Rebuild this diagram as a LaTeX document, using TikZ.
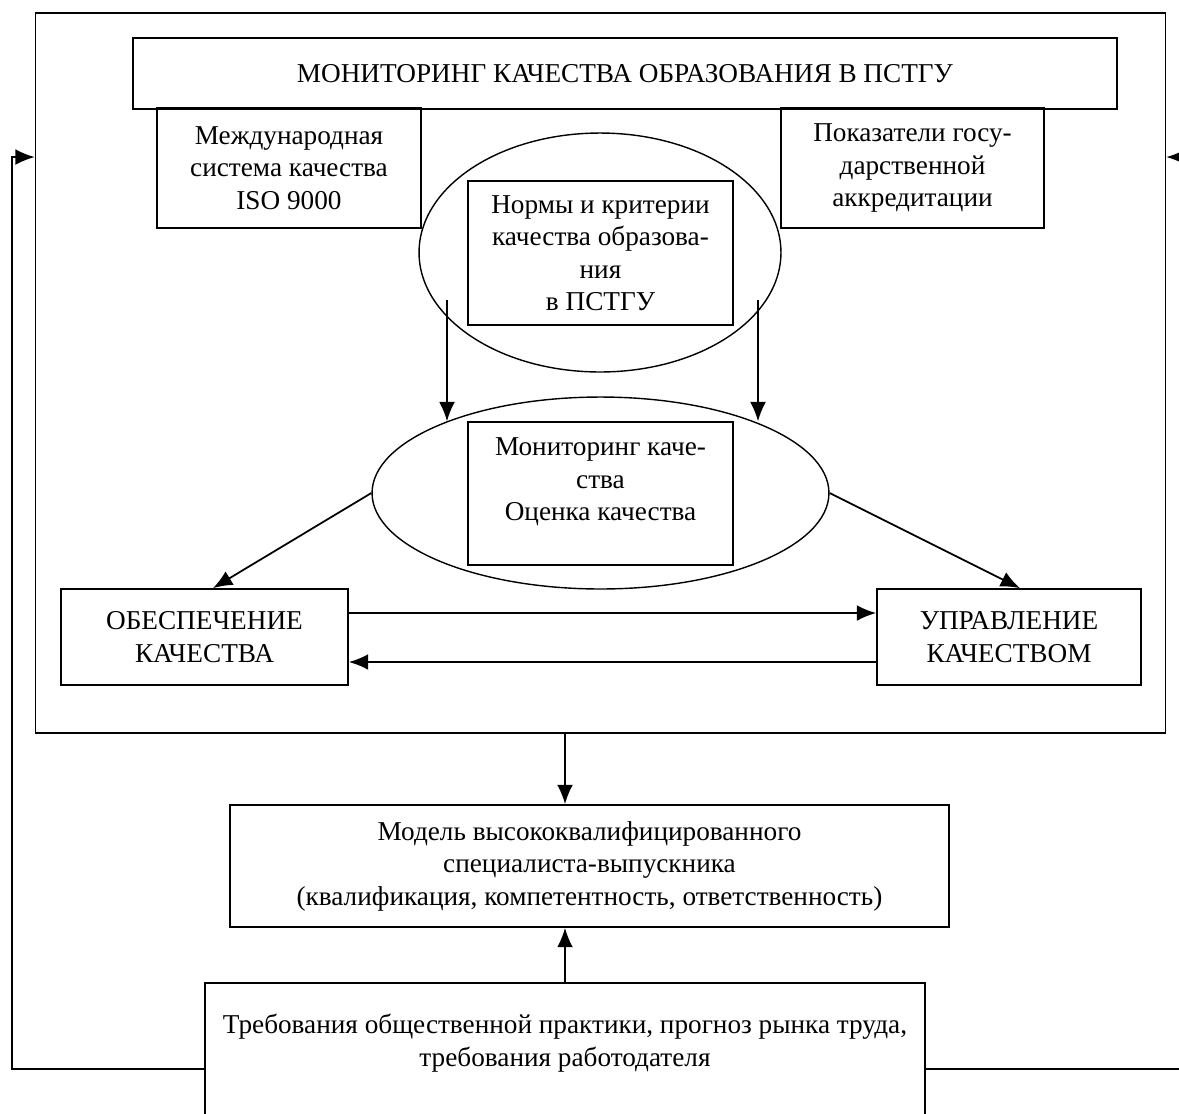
\documentclass[tikz,border=0pt]{standalone}
\usepackage{fontspec}
\setmainfont{Liberation Serif}
\usetikzlibrary{shapes.geometric, arrows.meta}
\tikzstyle{block} = [rectangle, draw=black, line width=1pt, text centered, align=center, inner sep=0pt]
\tikzstyle{oval} = [ellipse, draw=black, line width=0.8pt, inner sep=0pt]
\tikzstyle{arrow} = [line width=1pt,-{Latex[length=11pt,width=9pt]}]

\begin{document}
\begin{tikzpicture}[x=0.02cm, y=-0.02cm, font=\fontsize{15.5}{18.5}\selectfont]
\useasboundingbox (0,0) rectangle (1179,1113);
\clip (0,0) rectangle (1179,1113);

\node (frame) [block, minimum width=22.6cm, minimum height=14.4cm] at (600.5,373) {};
\node (title) [block, minimum width=19.68cm, minimum height=1.42cm] at (625,73.5) {МОНИТОРИНГ КАЧЕСТВА ОБРАЗОВАНИЯ В ПСТГУ};
\node (iso) [block, minimum width=5.28cm, minimum height=2.4cm] at (289,168) {Международная\\система качества\\ISO 9000};
\node (accr) [block, minimum width=5.26cm, minimum height=2.4cm] at (912.5,168) {Показатели госу-\\дарственной\\аккредитации};

\node (normsell) [oval, minimum width=7.24cm, minimum height=4.78cm] at (600,252.5) {};
\node (norms) [block, minimum width=5.3cm, minimum height=2.88cm] at (600.5,253) {Нормы и критерии\\качества образова-\\ния\\в ПСТГУ};

\node (monell) [oval, minimum width=9.14cm, minimum height=3.84cm] at (600.5,493) {};
\node (mon) [block, minimum width=5.3cm, minimum height=2.86cm] at (600.5,493.5) {};
\node (montext) [align=center] at (600.5,482) {Мониторинг каче-\\ства\\Оценка качества};

\node (obesp) [block, minimum width=5.74cm, minimum height=1.92cm] at (204.5,637) {ОБЕСПЕЧЕНИЕ\\КАЧЕСТВА};
\node (upr) [block, minimum width=5.28cm, minimum height=1.92cm] at (1009,637) {УПРАВЛЕНИЕ\\КАЧЕСТВОМ};

\node (model) [block, minimum width=14.38cm, minimum height=2.44cm] at (589.5,866) {Модель высококвалифицированного\\специалиста-выпускника\\(квалификация, компетентность, ответственность)};
\node (req) [block, minimum width=14.4cm, minimum height=3.4cm] at (565,1068) {};
\node (reqtext) [align=center] at (565,1043) {Требования общественной практики, прогноз рынка труда,\\требования работодателя};

% arrows inside the frame
\coordinate (n1) at (447,300);
\coordinate (n2) at (758,300);
\draw [arrow] (n1) -- (n1 |- monell.155);
\draw [arrow] (n2) -- (n2 |- monell.25);
\draw [arrow] (monell.west) -- ([xshift=0.17cm]obesp.north);
\draw [arrow] (monell.east) -- ([xshift=0.22cm]upr.north);
\draw [arrow] ([yshift=0.48cm]obesp.east) -- ([yshift=0.48cm]obesp.east -| upr.west);
\draw [arrow] ([yshift=-0.5cm]upr.west) -- ([yshift=-0.5cm]upr.west -| obesp.east);

% frame -> model <- requirements
\draw [arrow] (req.north |- frame.south) -- (req.north |- model.north);
\draw [arrow] (req.north) -- (req.north |- model.south);

% feedback
\coordinate (fbl) at (12,1069);
\coordinate (fbr) at (1200,1069);
\draw [arrow] (req.west |- fbl) -- (fbl) |- ([yshift=4.32cm]frame.west);
\draw [arrow] (req.east |- fbr) -- (fbr) |- ([yshift=4.32cm]frame.east);
\end{tikzpicture}
\end{document}
